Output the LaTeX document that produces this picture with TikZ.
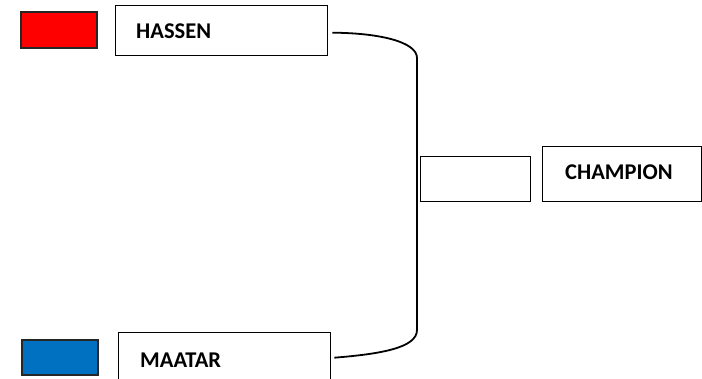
\documentclass[tikz,border=0pt]{standalone}
\usepackage{fontspec}
\setmainfont{Carlito}
\definecolor{teamred}{HTML}{FF0000}
\definecolor{teamblue}{HTML}{0070C0}
\begin{document}
\begin{tikzpicture}[x=1pt,y=-1pt,
  box/.style={draw=black,line width=1.4pt,fill=white,inner sep=0pt,anchor=north west},
  swatch/.style={draw=black!85,line width=1.6pt,inner sep=0pt,anchor=north west},
  lbl/.style={font=\bfseries\fontsize{22.5}{22.5}\selectfont,anchor=west,inner sep=0pt},
  link/.style={draw=black,line width=1.8pt}]
\useasboundingbox (0,0) rectangle (702,379);
\begin{scope}
\clip (0,0) rectangle (702,379);
\node[swatch,fill=teamred,minimum width=76pt,minimum height=36pt] (red) at (20,11) {};
\node[box,minimum width=212pt,minimum height=50pt] (hassen) at (115,5) {};
\node[lbl] (thassen) at (136,31) {HASSEN};
\node[swatch,fill=teamblue,minimum width=76pt,minimum height=35pt] (blue) at (21,339) {};
\node[box,minimum width=212pt,minimum height=60pt] (maatar) at (118,332) {};
\node[lbl] (tmaatar) at (140,360) {MAATAR};
\node[box,minimum width=110pt,minimum height=45pt] (final) at (420,156) {};
\node[box,minimum width=159pt,minimum height=55pt] (champ) at (542,146) {};
\node[lbl] (tchamp) at (565,172) {CHAMPION};
\draw[link] ([xshift=4pt,yshift=-2pt]hassen.east) .. controls (380,33) and (417,42) .. (417,58) -- (417,330) .. controls (417,348) and (380,354) .. ([xshift=3pt,yshift=5pt]maatar.east);
\end{scope}
\end{tikzpicture}
\end{document}
